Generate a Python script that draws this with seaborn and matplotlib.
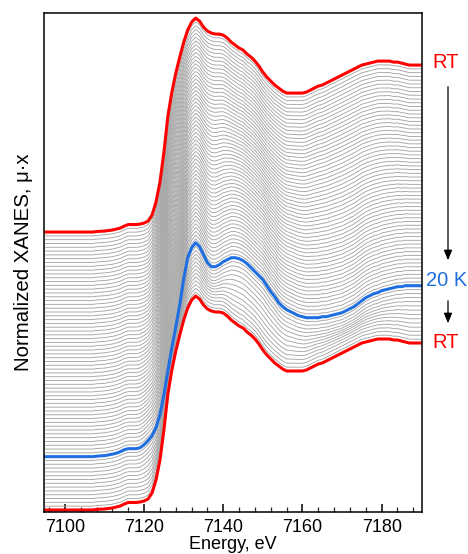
import numpy as np
import pandas as pd
import matplotlib
matplotlib.use("Agg")
import matplotlib.pyplot as plt
import seaborn as sns

# ---- data ----
energy = list(range(7095, 7191))  # eV, 1 eV steps

# room-temperature spectrum (pixel heights above pre-edge, scaled later)
rt_px = [0, 0, 0, 0, 0, 0, 0, 0, 0, 0, 0, 0, 0, 0.5, 0.8, 1, 1.5, 2, 3, 4,
         6, 7.5, 7.5, 7.5, 8, 9, 11, 17, 30, 50, 80, 116, 140, 159, 175, 190,
         202, 210, 214, 211, 205, 201, 199, 198, 198, 197, 194, 190, 187, 184,
         182, 178, 175, 171, 166, 160, 155, 151, 147, 144, 141, 139, 139, 139,
         139, 139, 140, 142, 144, 146, 147, 149, 151, 153, 155, 157, 159, 161,
         163, 165, 167, 168, 169, 170, 171, 171, 171, 171, 170, 170, 169, 168,
         167, 167, 167, 167]

# 20 K spectrum
k20_px = [0, 0, 0, 0, 0, 0, 0, 0, 0, 0, 0, 0, 0, 0.5, 0.8, 1, 1.8, 2.5, 3.5, 5,
          7, 8, 8, 8, 9, 12, 16, 21, 29, 42, 62, 86, 109, 130, 152, 178, 199,
          209, 214, 210, 202, 194, 190, 190, 192, 195, 197, 199, 199, 198, 196,
          193, 189, 185, 181, 177, 171, 165, 160, 154, 150, 147, 145, 143, 141,
          140, 139, 139, 139, 139, 140, 140, 141, 142, 143, 144, 146, 148, 150,
          153, 156, 159, 161, 163, 164, 166, 167, 168, 169, 170, 170, 171, 171,
          171, 171, 171]

# fraction of 20 K-like spectrum in each intermediate scan
cooling_frac = [0.00, 0.01, 0.02, 0.03, 0.04, 0.05, 0.06, 0.07, 0.08, 0.10,
                0.11, 0.12, 0.14, 0.15, 0.17, 0.19, 0.21, 0.23, 0.25, 0.27,
                0.30, 0.33, 0.36, 0.39, 0.42, 0.45, 0.48, 0.51, 0.54, 0.57,
                0.60, 0.63, 0.66, 0.69, 0.72, 0.75, 0.77, 0.79, 0.81, 0.83,
                0.85, 0.87, 0.88, 0.89, 0.90, 0.91, 0.92, 0.93, 0.94, 0.95,
                0.96, 0.96, 0.97, 0.97, 0.98, 0.98, 0.99, 0.99]
warming_frac = [0.97, 0.94, 0.89, 0.82, 0.72, 0.60, 0.47, 0.35, 0.24, 0.15,
                0.08, 0.04, 0.01]

x_ticks = [7100, 7120, 7140, 7160, 7180]
label_top = "RT"
label_mid = "20 K"
label_bot = "RT"

# ---- styling ----
sns.set_theme(style="white")
plt.rcParams["font.family"] = ["Liberation Sans", "DejaVu Sans"]

RED = "#ff0000"
BLUE = "#1f6fe0"
GRAY = "#a6a6a6"
PX = 170.0       # pixels per unit edge jump in the reference
STEP = 0.0224    # vertical stacking offset between scans

E = np.array(energy, dtype=float)
rt = np.array(rt_px) / PX
k20 = np.array(k20_px) / PX

# sequence of scans: RT -> cooling -> 20 K -> warming -> RT
fracs = [0.0] + cooling_frac + [1.0] + warming_frac + [0.0]
n = len(fracs)
i_blue = 1 + len(cooling_frac)

fig = plt.figure(figsize=(4.68, 5.54), dpi=100)
ax = fig.add_axes([44 / 468, 42 / 554, 378 / 468, 499 / 554])

special = []
for i, f in enumerate(fracs):
    off = (n - 1 - i) * STEP
    y = (1 - f) * rt + f * k20 + off
    if i == 0 or i == n - 1:
        special.append((y, RED))
    elif i == i_blue:
        special.append((y, BLUE))
    else:
        sns.lineplot(x=E, y=y, ax=ax, color=GRAY, lw=0.65, estimator=None,
                     sort=False, legend=False)
for y, c in special:
    sns.lineplot(x=E, y=y, ax=ax, color=c, lw=2.2, estimator=None,
                 sort=False, legend=False)

ax.set_xlim(7094.7, 7190.2)
ax.set_ylim(-0.012, 2.924)
ax.set_xticks(x_ticks)
ax.set_xticks(np.arange(7096, 7190, 4), minor=True)
ax.set_yticks([])
ax.tick_params(axis="x", which="major", direction="in", length=6, width=1.1,
               labelsize=13, pad=5, colors="black", bottom=True)
ax.tick_params(axis="x", which="minor", direction="in", length=3.5, width=0.9,
               bottom=True)
for s in ax.spines.values():
    s.set_visible(True)
    s.set_color("black")
    s.set_linewidth(1.1)

ax.set_xlabel("Energy, eV", fontsize=13, color="black", va="top")
ax.xaxis.set_label_coords(0.5, -0.049)
ax.set_ylabel("Normalized XANES, \u03bc\u00b7x", fontsize=14.7, labelpad=8,
              color="black")

# right-hand annotations (figure coordinates)
def fy(py):
    return 1 - py / 554

fig.text(446 / 468, fy(62), label_top, color=RED, fontsize=14.5,
         ha="center", va="center")
fig.text(447 / 468, fy(281), label_mid, color=BLUE, fontsize=14.5,
         ha="center", va="center")
fig.text(446 / 468, fy(342), label_bot, color=RED, fontsize=14.5,
         ha="center", va="center")
fig.add_artist(matplotlib.patches.FancyArrowPatch(
    (448 / 468, fy(84)), (448 / 468, fy(263)), transform=fig.transFigure,
    arrowstyle="-|>,head_length=6,head_width=2.5", color="black", lw=0.9))
fig.add_artist(matplotlib.patches.FancyArrowPatch(
    (448 / 468, fy(298)), (448 / 468, fy(326)), transform=fig.transFigure,
    arrowstyle="-|>,head_length=6,head_width=2.5", color="black", lw=0.9))

fig.savefig("out.png", dpi=100)
